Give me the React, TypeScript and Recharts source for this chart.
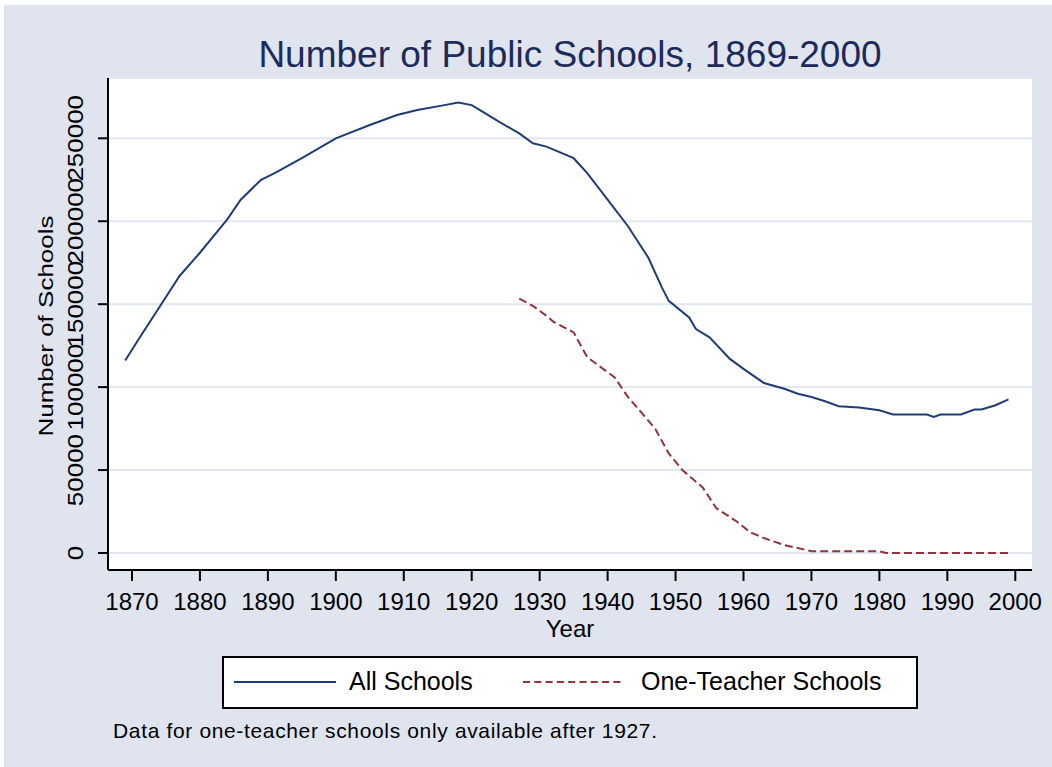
import { LineChart, Line, XAxis, YAxis, CartesianGrid } from "recharts";

// All public schools
const allYears = [
  1869, 1871, 1874, 1877, 1880, 1883, 1884, 1886, 1889, 1891, 1895, 1900, 1905, 1909, 1912, 1916, 1918, 1920,
  1922, 1924, 1927, 1929, 1931, 1935, 1937, 1940, 1943, 1946, 1948, 1949, 1952, 1953, 1955, 1958, 1960, 1963,
  1966, 1968, 1970, 1972, 1974, 1977, 1980, 1982, 1987, 1988, 1989, 1992, 1994, 1995, 1997, 1999,
];
const allSchools = [
  116000, 129000, 148000, 167000, 181000, 196000, 201000, 213000, 225000, 229000, 238000, 250000, 258000, 264000,
  267000, 270000, 271500, 270000, 265000, 260000, 253000, 247000, 245000, 238000, 229000, 213000, 197000, 178000,
  160000, 152000, 142000, 135000, 130000, 117000, 111000, 102500, 99000, 96000, 94000, 91500, 88500, 87700, 86000,
  83500, 83500, 82000, 83500, 83500, 86500, 86500, 88900, 92600,
];

// One-teacher schools, only from 1927
const oneTeacherYears = [
  1927, 1929, 1931, 1932, 1935, 1937, 1941, 1943, 1947, 1949, 1951, 1954, 1956, 1959, 1961, 1963, 1966, 1969,
  1970, 1980, 1981, 1999,
];
const oneTeacher = [
  153300, 149000, 143000, 139500, 133000, 118000, 106000, 94000, 75000, 60000, 50000, 39500, 27000, 19000, 12500,
  9000, 4800, 2000, 1000, 1000, 0, 0,
];

const xTicks = [1870, 1880, 1890, 1900, 1910, 1920, 1930, 1940, 1950, 1960, 1970, 1980, 1990, 2000];
const yTicks = [0, 50000, 100000, 150000, 200000, 250000];

const FONT = "'Liberation Sans', Arial, Helvetica, sans-serif";
const BG = "#dfe4ef";
const GRID = "#e2e7f1";
const NAVY = "#1f3d74";
const MAROON = "#90353b";
const TITLE = "#1c2b5a";

const allData = allYears.map((year, i) => ({ year, value: allSchools[i] }));
const oneData = oneTeacherYears.map((year, i) => ({ year, value: oneTeacher[i] }));

function YTick(props: any) {
  const { x, y, payload } = props;
  return (
    <text
      transform={`translate(${x - 13},${y}) rotate(-90) scale(1.18,1)`}
      textAnchor="middle"
      fontSize={22}
      fontFamily={FONT}
      fill="#000"
    >
      {payload.value}
    </text>
  );
}

function XTick(props: any) {
  const { x, y, payload } = props;
  return (
    <text x={x} y={y + 27} textAnchor="middle" fontSize={24} fontFamily={FONT} fill="#000">
      {payload.value}
    </text>
  );
}

export default function App() {
  return (
    <div style={{ position: "absolute", left: 0, top: 0, width: 1052, height: 767, background: "#fff" }}>
      <div style={{ position: "absolute", left: 4, top: 5, right: 0, bottom: 0, background: BG }} />
      <div style={{ position: "absolute", left: 0, top: 0 }}>
        <LineChart width={1052} height={767} margin={{ top: 78, right: 20, bottom: 167, left: 48 }}>
          <CartesianGrid vertical={false} fill="#fff" stroke={GRID} strokeWidth={2} />
          <XAxis
            dataKey="year"
            type="number"
            domain={[1866.47, 2002.46]}
            ticks={xTicks}
            allowDataOverflow
            interval={0}
            tickSize={11}
            tick={<XTick />}
            axisLine={{ stroke: "#000", strokeWidth: 2 }}
            tickLine={{ stroke: "#000", strokeWidth: 2 }}
          />
          <YAxis
            type="number"
            domain={[-10250, 286350]}
            ticks={yTicks}
            allowDataOverflow
            interval={0}
            tickSize={10}
            tick={<YTick />}
            axisLine={{ stroke: "#000", strokeWidth: 2 }}
            tickLine={{ stroke: "#000", strokeWidth: 2 }}
          />
          <Line
            data={allData}
            dataKey="value"
            name="All Schools"
            type="linear"
            stroke={NAVY}
            strokeWidth={2}
            dot={false}
            isAnimationActive={false}
          />
          <Line
            data={oneData}
            dataKey="value"
            name="One-Teacher Schools"
            type="linear"
            stroke={MAROON}
            strokeWidth={2}
            strokeDasharray="8 4"
            dot={false}
            isAnimationActive={false}
          />
        </LineChart>
      </div>
      <svg
        width={1052}
        height={767}
        style={{ position: "absolute", left: 0, top: 0, pointerEvents: "none" }}
        fontFamily={FONT}
      >
        <text x={570} y={67} textAnchor="middle" fontSize={37} fill={TITLE}>
          Number of Public Schools, 1869-2000
        </text>
        <text transform="translate(53,326) rotate(-90) scale(1.3,1)" textAnchor="middle" fontSize={20} fill="#000">
          Number of Schools
        </text>
        <text x={570} y={637} textAnchor="middle" fontSize={24} fill="#000">
          Year
        </text>
        <rect x={223} y={657} width={694} height={51} fill="#fff" stroke="#000" strokeWidth={2} />
        <line x1={234} x2={336} y1={682} y2={682} stroke={NAVY} strokeWidth={2} />
        <text x={349} y={690} fontSize={25} fill="#000">
          All Schools
        </text>
        <line x1={523} x2={623} y1={682} y2={682} stroke={MAROON} strokeWidth={2} strokeDasharray="7 4.3" />
        <text x={641} y={690} fontSize={25} fill="#000">
          One-Teacher Schools
        </text>
        <text x={113} y={738} fontSize={21} fill="#000" textLength={544} lengthAdjust="spacing">
          Data for one-teacher schools only available after 1927.
        </text>
      </svg>
    </div>
  );
}
